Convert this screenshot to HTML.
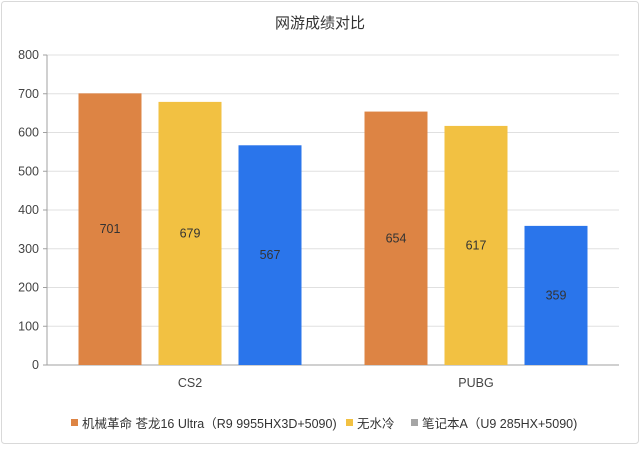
<!DOCTYPE html>
<html><head><meta charset="utf-8"><style>
body{margin:0;background:#fff;font-family:"Liberation Sans","Noto Sans CJK SC",sans-serif;}
#c{position:relative;width:640px;height:445px;}
</style></head><body>
<div id="c">
<svg id="s" width="640" height="445">
<rect x="1.5" y="1.5" width="637" height="442" rx="3" fill="#fff" stroke="#d9d9d9"/>
<text x="320" y="28" text-anchor="middle" font-size="15" fill="#333">网游成绩对比</text>
<g id="grid"></g><g id="bars"></g>
<g font-size="12.5" fill="#333">
<rect x="71" y="419" width="7" height="7" fill="#dd8444"/>
<text x="82" y="428">机械革命 苍龙16 Ultra（R9 9955HX3D+5090)</text>
<rect x="346" y="419" width="7" height="7" fill="#f2c142"/>
<text x="357" y="428">无水冷</text>
<rect x="411" y="419" width="7" height="7" fill="#a5a5a5"/>
<text x="422" y="428">笔记本A（U9 285HX+5090)</text>
</g>
</svg></div>
<script>
const categories=["CS2","PUBG"];
const seriesA=[701,654];
const seriesB=[679,617];
const seriesC=[567,359];
const ticks=[0,100,200,300,400,500,600,700,800];
const colors=["#dd8444","#f2c142","#2a75eb"];
const NS="http://www.w3.org/2000/svg";
const x0=47,x1=619,y0=365,y800=55;
function y(v){return y0-(v/800)*(y0-y800);}
function mk(t,a,p){const e=document.createElementNS(NS,t);for(const k in a)e.setAttribute(k,a[k]);p.appendChild(e);return e;}
const g=document.getElementById("grid"),b=document.getElementById("bars");
ticks.forEach(t=>{
 if(t>0){const l=mk("line",{x1:x0,x2:x1,y1:y(t),y2:y(t),stroke:"#e0e0e0"},g);
 
 }
 const tk=mk("line",{x1:x0-4,x2:x0,y1:y(t),y2:y(t),stroke:"#a0a0a0"},g);
 
 
 const tx=mk("text",{x:x0-8,y:y(t)+4,"text-anchor":"end","font-size":"12.5",fill:"#444"},g);
 tx.textContent=t;
 
 
});
const ax=mk("line",{x1:x0,x2:x0,y1:y800,y2:y0,stroke:"#a0a0a0"},g);


const xa=mk("line",{x1:x0,x2:x1,y1:y0,y2:y0,stroke:"#a0a0a0"},g);


const cw=(x1-x0)/categories.length,bw=63,gap=17;
const series=[seriesA,seriesB,seriesC];
categories.forEach((c,i)=>{
 const cx=x0+cw*(i+0.5);
 const ct=mk("text",{x:cx,y:y0+22,"text-anchor":"middle","font-size":"12.5",fill:"#444"},g);
 ct.textContent=c;
 
 
 series.forEach((s,j)=>{
  const bx=cx+(j-1)*(bw+gap)-bw/2;
  const r=mk("rect",{x:bx,y:y(s[i]),width:bw,height:y0-y(s[i]),fill:colors[j]},b);
  
  
  const t=mk("text",{x:bx+bw/2,y:(y(s[i])+y0)/2+4,"text-anchor":"middle","font-size":"12.5",fill:"#333"},b);
  t.textContent=s[i];
  
  
 });
});
</script>
</body></html>
